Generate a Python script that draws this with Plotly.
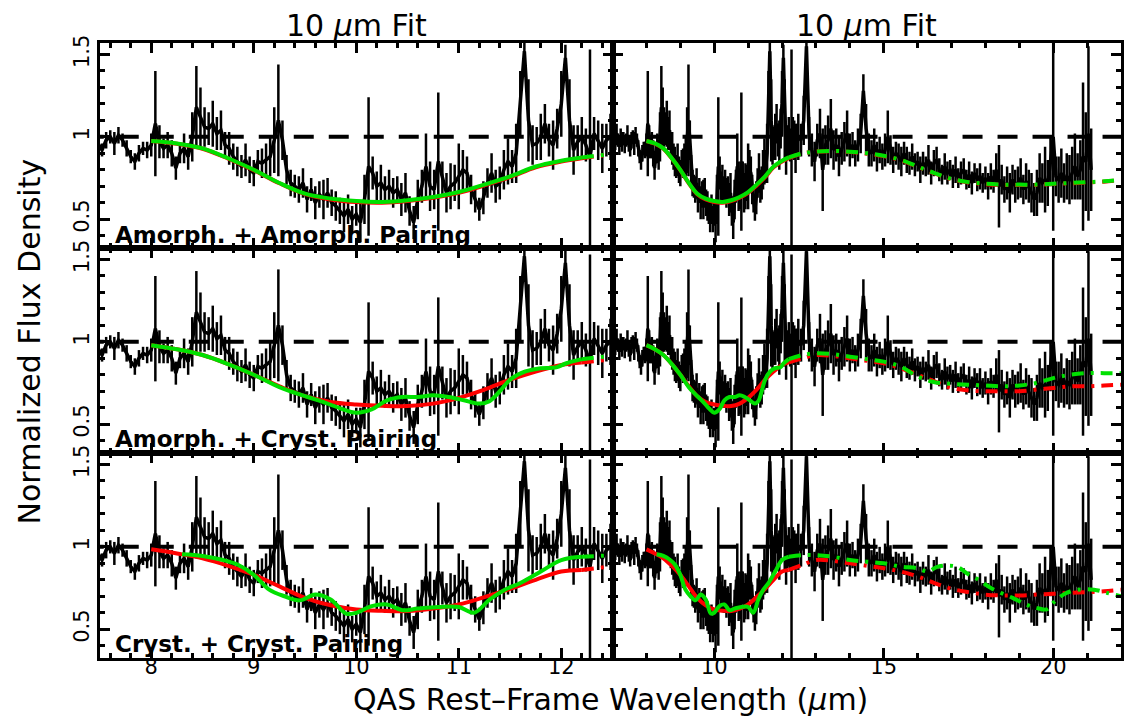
import plotly.graph_objects as go

# ---------------- data ----------------
wave_a = [7.00, 7.04, 7.08, 7.12, 7.16, 7.20, 7.24, 7.28, 7.32, 7.36,
          7.40, 7.44, 7.48, 7.52, 7.56, 7.60, 7.64, 7.68, 7.72, 7.76,
          7.80, 7.84, 7.88, 7.92, 7.96, 8.00, 8.04, 8.08, 8.12, 8.16,
          8.20, 8.24, 8.28, 8.32, 8.36, 8.40, 8.44, 8.48, 8.52, 8.56,
          8.60, 8.64, 8.68, 8.72, 8.76, 8.80, 8.84, 8.88, 8.92, 8.96,
          9.00, 9.04, 9.08, 9.12, 9.16, 9.20, 9.24, 9.28, 9.32, 9.36,
          9.40, 9.44, 9.48, 9.52, 9.56, 9.60, 9.64, 9.68, 9.72, 9.76,
          9.80, 9.84, 9.88, 9.92, 9.96, 10.00, 10.04, 10.08, 10.12, 10.16,
          10.20, 10.24, 10.28, 10.32, 10.36, 10.40, 10.44, 10.48, 10.52, 10.56,
          10.60, 10.64, 10.68, 10.72, 10.76, 10.80, 10.84, 10.88, 10.92, 10.96,
          11.00, 11.04, 11.08, 11.12, 11.16, 11.20, 11.24, 11.28, 11.32, 11.36,
          11.40, 11.44, 11.48, 11.52, 11.56, 11.60, 11.64, 11.68, 11.72, 11.76,
          11.80, 11.84, 11.88, 11.92, 11.96, 12.00, 12.04, 12.08, 12.12, 12.16,
          12.20, 12.24, 12.28, 12.32, 12.36, 12.40, 12.44, 12.48]
flux_a = [0.97, 1.00, 0.95, 1.02, 0.98, 0.94, 1.01, 0.97, 0.99, 0.95,
          0.98, 1.01, 0.96, 0.92, 0.98, 1.00, 0.96, 1.01, 0.98, 0.93,
          0.88, 0.85, 0.90, 0.93, 0.92, 0.95, 1.08, 0.97, 0.93, 0.95,
          0.90, 0.81, 0.90, 0.93, 0.88, 1.00, 1.18, 1.12, 1.06, 1.05,
          1.08, 1.02, 1.04, 0.95, 0.93, 0.88, 0.85, 0.82, 0.86, 0.80,
          0.78, 0.85, 0.84, 0.86, 0.88, 0.98, 1.10, 0.98, 0.80, 0.72,
          0.70, 0.68, 0.72, 0.62, 0.68, 0.60, 0.65, 0.62, 0.66, 0.60,
          0.58, 0.55, 0.52, 0.56, 0.50, 0.53, 0.48, 0.62, 0.82, 0.78,
          0.70, 0.72, 0.68, 0.70, 0.66, 0.68, 0.62, 0.66, 0.55, 0.48,
          0.62, 0.70, 0.82, 0.70, 0.68, 0.85, 0.75, 0.66, 0.70, 0.72,
          0.76, 0.80, 0.78, 0.68, 0.62, 0.56, 0.63, 0.72, 0.78, 0.70,
          0.72, 0.80, 0.85, 0.82, 0.90, 1.20, 1.52, 1.10, 0.95, 0.96,
          1.00, 1.08, 0.98, 0.95, 1.05, 1.20, 1.48, 1.10, 0.92, 0.97,
          1.00, 0.95, 0.88, 1.02, 0.98, 0.93, 0.98, 1.00]
err_a = [0.04, 0.05, 0.03, 0.06, 0.04, 0.05, 0.04, 0.06, 0.04, 0.05,
         0.04, 0.06, 0.05, 0.04, 0.05, 0.04, 0.07, 0.05, 0.04, 0.05,
         0.04, 0.05, 0.05, 0.04, 0.05, 0.07, 0.32, 0.10, 0.06, 0.08,
         0.08, 0.07, 0.06, 0.09, 0.08, 0.15, 0.25, 0.18, 0.12, 0.10,
         0.14, 0.10, 0.12, 0.08, 0.10, 0.08, 0.09, 0.07, 0.10, 0.08,
         0.08, 0.07, 0.09, 0.10, 0.12, 0.20, 0.34, 0.12, 0.09, 0.08,
         0.07, 0.08, 0.09, 0.08, 0.07, 0.10, 0.08, 0.12, 0.09, 0.08,
         0.09, 0.08, 0.10, 0.09, 0.08, 0.07, 0.12, 0.15, 0.42, 0.10,
         0.09, 0.11, 0.08, 0.10, 0.09, 0.08, 0.10, 0.12, 0.09, 0.10,
         0.12, 0.10, 0.20, 0.15, 0.12, 0.42, 0.10, 0.12, 0.14, 0.11,
         0.20, 0.12, 0.10, 0.09, 0.08, 0.07, 0.10, 0.09, 0.12, 0.10,
         0.10, 0.12, 0.14, 0.10, 0.18, 0.20, 0.06, 0.25, 0.12, 0.10,
         0.14, 0.12, 0.10, 0.15, 0.12, 0.20, 0.08, 0.25, 0.15, 0.10,
         0.12, 0.10, 0.65, 0.10, 0.12, 0.15, 0.10, 0.14]

wave_b = [12.56, 12.64, 12.72, 12.80, 12.88, 12.96, 13.04, 13.12, 13.20, 13.28,
          13.36, 13.44, 13.52, 13.60, 13.68, 13.76, 13.84, 13.92, 14.00, 14.08,
          14.16, 14.24, 14.32, 14.40, 14.48, 14.56, 14.64, 14.72, 14.80, 14.88,
          14.96, 15.04, 15.12, 15.20, 15.28, 15.36, 15.44, 15.52, 15.60, 15.68,
          15.76, 15.84, 15.92, 16.00, 16.08, 16.16, 16.24, 16.32, 16.40, 16.48,
          16.56, 16.64, 16.72, 16.80, 16.88, 16.96, 17.04, 17.12, 17.20, 17.28,
          17.36, 17.44, 17.52, 17.60, 17.68, 17.76, 17.84, 17.92, 18.00, 18.08,
          18.16, 18.24, 18.32, 18.40, 18.48, 18.56, 18.64, 18.72, 18.80, 18.88,
          18.96, 19.04, 19.12, 19.20, 19.28, 19.36, 19.44, 19.52, 19.60, 19.68,
          19.76, 19.84, 19.92, 20.00, 20.08, 20.16, 20.24, 20.32, 20.40, 20.48,
          20.56, 20.64, 20.72, 20.80, 20.88, 20.96, 21.04, 21.12]
flux_b = [0.98, 1.10, 1.55, 1.00, 0.92, 0.85, 0.98, 1.02, 0.80, 0.95,
          0.98, 1.05, 0.92, 0.95, 0.88, 0.93, 0.97, 1.02, 0.92, 0.95,
          0.90, 0.95, 1.02, 1.28, 1.05, 0.92, 0.90, 0.95, 0.88, 0.92,
          0.88, 0.92, 1.00, 0.92, 0.86, 0.90, 0.88, 0.85, 0.90, 0.86,
          0.84, 0.88, 0.83, 0.85, 0.80, 0.84, 0.82, 0.86, 0.78, 0.84,
          0.86, 0.80, 0.77, 0.82, 0.78, 0.80, 0.76, 0.80, 0.75, 0.78,
          0.80, 0.74, 0.77, 0.72, 0.78, 0.74, 0.76, 0.72, 0.75, 0.70,
          0.76, 0.73, 0.80, 0.70, 0.74, 0.68, 0.72, 0.66, 0.74, 0.70,
          0.72, 0.75, 0.68, 0.73, 0.70, 0.66, 0.62, 0.66, 0.75, 0.72,
          0.74, 0.72, 0.85, 1.00, 0.76, 0.74, 0.78, 0.72, 0.76, 0.74,
          0.78, 0.82, 0.76, 0.80, 0.88, 0.85, 1.02, 0.80]
err_b = [0.10, 0.15, 0.05, 0.12, 0.10, 0.12, 0.10, 0.15, 0.25, 0.12,
         0.15, 0.18, 0.12, 0.10, 0.12, 0.10, 0.12, 0.14, 0.10, 0.08,
         0.08, 0.10, 0.12, 0.10, 0.15, 0.10, 0.08, 0.10, 0.09, 0.08,
         0.08, 0.10, 0.16, 0.09, 0.08, 0.07, 0.08, 0.09, 0.07, 0.08,
         0.07, 0.08, 0.07, 0.06, 0.08, 0.07, 0.06, 0.09, 0.07, 0.08,
         0.08, 0.07, 0.06, 0.08, 0.07, 0.06, 0.07, 0.08, 0.06, 0.07,
         0.07, 0.06, 0.08, 0.07, 0.06, 0.07, 0.08, 0.06, 0.07, 0.08,
         0.08, 0.07, 0.10, 0.25, 0.09, 0.08, 0.10, 0.12, 0.09, 0.10,
         0.10, 0.12, 0.09, 0.11, 0.10, 0.12, 0.10, 0.14, 0.15, 0.12,
         0.20, 0.14, 0.15, 0.57, 0.12, 0.14, 0.15, 0.12, 0.14, 0.15,
         0.16, 0.20, 0.14, 0.18, 0.45, 0.30, 0.53, 0.25]

# 10 micron fits (solid part)
fit_x = [8.0, 8.25, 8.5, 8.75, 9.0, 9.25, 9.5, 9.75, 10.0, 10.25, 10.5, 10.75,
         11.0, 11.25, 11.5, 11.75, 12.0, 12.2]
red_fit_r1 = [0.975, 0.958, 0.928, 0.868, 0.798, 0.718, 0.652, 0.62, 0.604, 0.60,
              0.61, 0.63, 0.66, 0.705, 0.755, 0.815, 0.85, 0.87]
green_fit_r1 = [0.975, 0.96, 0.93, 0.87, 0.80, 0.72, 0.655, 0.625, 0.61, 0.605,
                0.615, 0.635, 0.665, 0.71, 0.76, 0.82, 0.855, 0.875]
red_fit_r2 = [0.98, 0.955, 0.92, 0.865, 0.80, 0.73, 0.67, 0.635, 0.62, 0.612,
              0.61, 0.625, 0.66, 0.71, 0.77, 0.82, 0.86, 0.875]
green_x_r2 = [8.0, 8.25, 8.5, 8.75, 9.0, 9.25, 9.5, 9.7, 9.85, 10.0, 10.15, 10.3,
              10.45, 10.6, 10.75, 10.9, 11.05, 11.2, 11.3, 11.4, 11.5, 11.65,
              11.8, 11.95, 12.05, 12.2]
green_fit_r2 = [0.98, 0.955, 0.92, 0.865, 0.80, 0.725, 0.67, 0.63, 0.595, 0.57,
                0.59, 0.645, 0.665, 0.665, 0.675, 0.665, 0.645, 0.625, 0.64, 0.70,
                0.77, 0.82, 0.84, 0.845, 0.87, 0.895]
red_fit_r3 = [0.985, 0.96, 0.93, 0.885, 0.83, 0.76, 0.69, 0.645, 0.62, 0.612,
              0.61, 0.625, 0.65, 0.695, 0.745, 0.80, 0.85, 0.86]
green_x_r3 = [8.3, 8.5, 8.7, 8.85, 9.0, 9.15, 9.3, 9.45, 9.6, 9.75, 9.9, 10.0,
              10.15, 10.3, 10.45, 10.6, 10.8, 11.0, 11.15, 11.3, 11.45, 11.6,
              11.8, 12.0, 12.2]
green_fit_r3 = [0.955, 0.945, 0.92, 0.89, 0.83, 0.74, 0.70, 0.675, 0.71, 0.68,
                0.595, 0.60, 0.64, 0.65, 0.615, 0.625, 0.635, 0.635, 0.60, 0.68,
                0.74, 0.78, 0.85, 0.92, 0.94]

# continuum (dash-dot part)
cont_x = [12.2, 12.6, 13.0, 13.5, 14.0, 14.5, 15.0, 15.5, 16.0, 16.5, 17.0,
          17.5, 18.0, 18.5, 19.0, 19.5, 20.0, 20.5, 21.0, 21.5, 22.0]
red_cont_r1 = [0.87, 0.90, 0.91, 0.913, 0.908, 0.898, 0.883, 0.858, 0.818, 0.778,
               0.743, 0.723, 0.713, 0.708, 0.708, 0.708, 0.713, 0.718, 0.723, 0.728, 0.738]
green_cont_r1 = [0.875, 0.90, 0.91, 0.915, 0.91, 0.90, 0.885, 0.86, 0.82, 0.78,
                 0.745, 0.725, 0.715, 0.71, 0.71, 0.71, 0.715, 0.72, 0.725, 0.73, 0.74]
red_cont_r2 = [0.875, 0.90, 0.92, 0.915, 0.90, 0.885, 0.87, 0.84, 0.80, 0.76,
               0.72, 0.705, 0.70, 0.70, 0.70, 0.71, 0.72, 0.73, 0.73, 0.735, 0.74]
green_cont_r2 = [0.895, 0.92, 0.93, 0.925, 0.91, 0.895, 0.88, 0.85, 0.79, 0.755,
                 0.745, 0.74, 0.735, 0.73, 0.735, 0.75, 0.78, 0.80, 0.81, 0.81, 0.81]
red_cont_r3 = [0.86, 0.89, 0.92, 0.915, 0.90, 0.885, 0.87, 0.85, 0.82, 0.78,
               0.745, 0.725, 0.71, 0.705, 0.705, 0.71, 0.715, 0.72, 0.725, 0.73, 0.74]
green_cont_x_r3 = [12.2, 12.6, 13.0, 13.5, 14.0, 14.5, 15.0, 15.5, 16.0, 16.3, 16.6,
                   17.15, 17.45, 17.8, 18.2, 18.8, 19.2, 19.5, 19.8, 20.0, 20.3,
                   20.6, 21.2, 21.6, 22.0]
green_cont_r3 = [0.94, 0.95, 0.95, 0.94, 0.92, 0.91, 0.90, 0.88, 0.87, 0.85, 0.88,
                 0.88, 0.84, 0.80, 0.745, 0.69, 0.65, 0.63, 0.62, 0.66, 0.71,
                 0.735, 0.74, 0.72, 0.70]

panel_labels = ["Amorph. + Amorph. Pairing", "Amorph. + Cryst. Pairing",
                "Cryst. + Cryst. Pairing"]
col_title = "10 <i>\u03bc</i>m Fit"
x_title = "QAS Rest\u2013Frame Wavelength (<i>\u03bc</i>m)"
y_title = "Normalized Flux Density"

# ---------------- figure ----------------
RED = "#ff0000"
GREEN = "#00e000"
FONT = "DejaVu Sans"

wave = wave_a + wave_b
flux = flux_a + flux_b
err = err_a + err_b

rows = [
    (red_fit_r1, fit_x, green_fit_r1, red_cont_r1, cont_x, green_cont_r1),
    (red_fit_r2, green_x_r2, green_fit_r2, red_cont_r2, cont_x, green_cont_r2),
    (red_fit_r3, green_x_r3, green_fit_r3, red_cont_r3, green_cont_x_r3, green_cont_r3),
]

fig = go.Figure()
split = 0.502
xdom = [[0, split], [split, 1]]
ydom = [[2 / 3, 1], [1 / 3, 2 / 3], [0, 1 / 3]]
DASHDOT = "12px,7px,3px,7px"

for r in range(3):
    rf, gx, gf, rc, gcx, gc = rows[r]
    for c in range(2):
        k = r * 2 + c + 1
        xa = "x" if k == 1 else f"x{k}"
        ya = "y" if k == 1 else f"y{k}"
        fig.add_trace(go.Scatter(x=[7, 22], y=[1, 1], mode="lines", xaxis=xa, yaxis=ya,
                                 line=dict(color="black", width=4, dash="20px,15px"),
                                 showlegend=False, hoverinfo="skip"))
        fig.add_trace(go.Scatter(x=wave, y=flux, mode="lines", xaxis=xa, yaxis=ya,
                                 line=dict(color="black", width=3.5),
                                 error_y=dict(type="data", array=err, color="black",
                                              thickness=2.5, width=0),
                                 showlegend=False))
        fig.add_trace(go.Scatter(x=fit_x, y=rf, mode="lines", xaxis=xa, yaxis=ya,
                                 line=dict(color=RED, width=4, shape="spline"),
                                 showlegend=False))
        fig.add_trace(go.Scatter(x=cont_x, y=rc, mode="lines", xaxis=xa, yaxis=ya,
                                 line=dict(color=RED, width=4, shape="spline", dash=DASHDOT),
                                 showlegend=False))
        fig.add_trace(go.Scatter(x=gx, y=gf, mode="lines", xaxis=xa, yaxis=ya,
                                 line=dict(color=GREEN, width=4, shape="spline"),
                                 showlegend=False))
        fig.add_trace(go.Scatter(x=gcx, y=gc, mode="lines", xaxis=xa, yaxis=ya,
                                 line=dict(color=GREEN, width=4, shape="spline", dash=DASHDOT),
                                 showlegend=False))

        xkey = "xaxis" if k == 1 else f"xaxis{k}"
        ykey = "yaxis" if k == 1 else f"yaxis{k}"
        common = dict(showline=True, linewidth=3, linecolor="black", mirror="allticks",
                      ticks="inside", ticklen=10, tickwidth=2.5, tickcolor="black",
                      showgrid=False, zeroline=False,
                      tickfont=dict(family=FONT, size=21, color="black"))
        if c == 0:
            xr = [7.5, 12.5]
            xt = dict(tick0=0, dtick=1, minor=dict(ticks="inside", ticklen=5, tickwidth=2.5,
                                                   tickcolor="black", dtick=0.2, tick0=0))
        else:
            xr = [7, 22]
            xt = dict(tick0=0, dtick=5, minor=dict(ticks="inside", ticklen=5, tickwidth=2.5,
                                                   tickcolor="black", dtick=1, tick0=0))
        fig.layout[xkey] = dict(domain=xdom[c], range=xr, anchor=ya,
                                showticklabels=(r == 2), ticklabelstandoff=-12,
                                **xt, **common)
        fig.layout[ykey] = dict(domain=ydom[r], range=[0.325, 1.57], anchor=xa,
                                tick0=0, dtick=0.5, tickangle=-90,
                                showticklabels=(c == 0),
                                minor=dict(ticks="inside", ticklen=5, tickwidth=2.5,
                                           tickcolor="black", dtick=0.1, tick0=0),
                                **common)

annotations = []
for i, t in enumerate([col_title, col_title]):
    annotations.append(dict(text=t, x=[0.251, 0.751][i], y=1.028, xref="paper", yref="paper",
                            showarrow=False, xanchor="center", yanchor="middle",
                            font=dict(family=FONT, size=30, color="black")))
label_y = [0.6875, 0.356, 0.0235]
for i, t in enumerate(panel_labels):
    annotations.append(dict(text="<b>" + t + "</b>", x=0.013, y=label_y[i], xref="paper",
                            yref="paper", showarrow=False, xanchor="left", yanchor="middle",
                            font=dict(family=FONT, size=23, color="black")))
annotations.append(dict(text=x_title, x=0.5, y=-0.067, xref="paper", yref="paper",
                        showarrow=False, xanchor="center", yanchor="middle",
                        font=dict(family=FONT, size=30, color="black")))
annotations.append(dict(text=y_title, x=-0.069, y=0.514, xref="paper", yref="paper",
                        showarrow=False, xanchor="center", yanchor="middle", textangle=-90,
                        font=dict(family=FONT, size=30, color="black")))

fig.update_layout(width=1127, height=719, margin=dict(l=100, r=3, t=43, b=61),
                  paper_bgcolor="white", plot_bgcolor="white",
                  annotations=annotations, showlegend=False)

fig.write_html("out.html")
